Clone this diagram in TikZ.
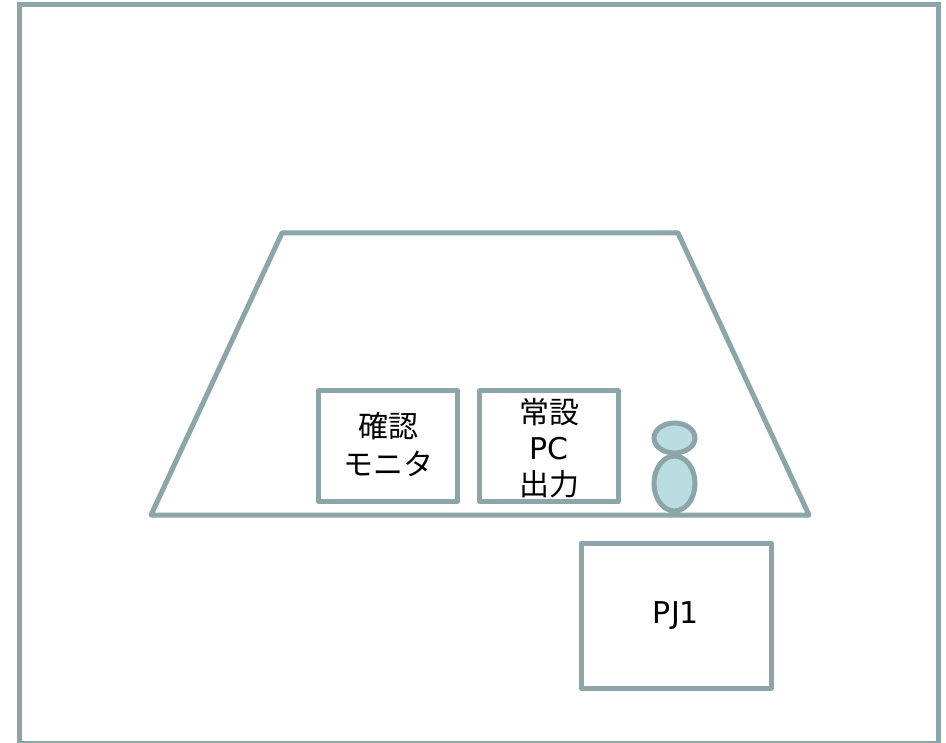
\documentclass[tikz,border=0pt]{standalone}
\usepackage{fontspec}
\setmainfont{DejaVu Sans}
\newfontfamily\cjk{Noto Sans CJK JP}
\usetikzlibrary{positioning,shapes.geometric}
\definecolor{framegray}{HTML}{8BA5A8}
\definecolor{bodyfill}{HTML}{B9DDE0}
\tikzset{
	box/.style={draw=framegray,line width=5pt,line join=round,inner sep=0pt,text=black,font=\fontsize{30pt}{36pt}\selectfont},
	boxtext/.style={align=center,inner sep=0pt,text=black,font=\fontsize{30pt}{36pt}\selectfont},
	person/.style={draw=framegray,line width=5pt,fill=bodyfill,ellipse,inner sep=0pt}
}
\begin{document}
\begin{tikzpicture}[x=1pt,y=-1pt]
\useasboundingbox (0,0) rectangle (946,743);

% outer frame
\draw[framegray,line width=5pt] (19,743) -- (19,5) -- (938,5) -- (938,743);
\draw[framegray,line width=3pt] (19,742) -- (938,742);

% screen
\coordinate (tl) at (282,233);
\coordinate (tr) at (678,233);
\coordinate (br) at (809,515);
\coordinate (bl) at (151,515);
\draw[framegray,line width=5pt,line join=round] (tl) -- (tr) -- (br) -- (bl) -- cycle;

\node[box,minimum width=139pt,minimum height=110pt,label={[boxtext,yshift=1.5pt]center:{\cjk 確認\\[2pt]\cjk モニタ}}] (monitor) at (388,446) {};
\node[box,minimum width=139pt,minimum height=110pt,label={[boxtext,yshift=-2pt]center:{\cjk 常設\\PC\\\cjk 出力}}] (pcout) at (549,446) {};
\node[box,minimum width=190pt,minimum height=145pt] (pj) at (676,615.5) {PJ1};

\node[person,minimum width=41pt,minimum height=30pt] (head) at (674.5,438) {};
\node[person,minimum width=41pt,minimum height=55pt] (torso) at (674.5,483.5) {};

\end{tikzpicture}
\end{document}
